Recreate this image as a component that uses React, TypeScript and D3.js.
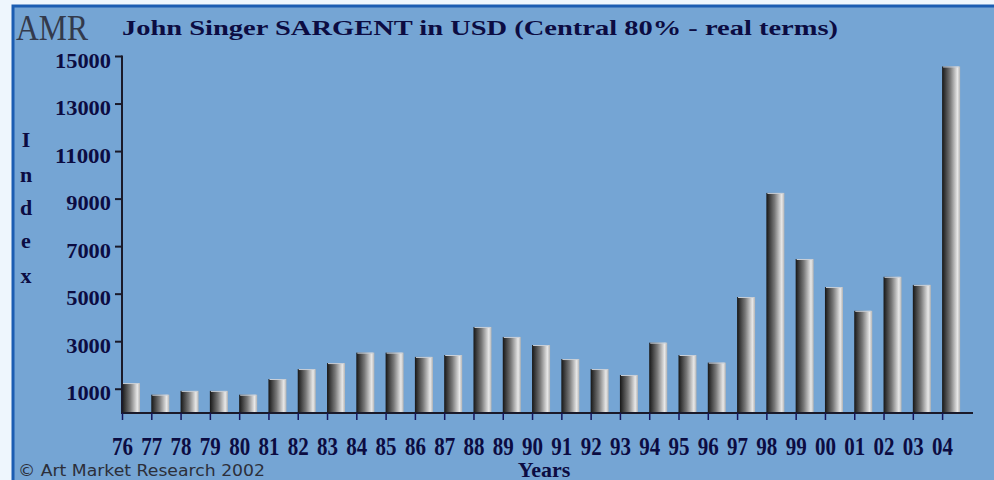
import { useEffect, useRef } from 'react'
import * as d3 from 'd3'

const years = ['76', '77', '78', '79', '80', '81', '82', '83', '84', '85', '86', '87', '88', '89', '90', '91', '92', '93', '94', '95', '96', '97', '98', '99', '00', '01', '02', '03', '04']
const index = [1260, 770, 930, 930, 770, 1430, 1850, 2100, 2540, 2540, 2360, 2440, 3620, 3200, 2860, 2270, 1850, 1600, 2960, 2440, 2120, 4880, 9260, 6480, 5300, 4300, 5730, 5390, 14580]
const yTicks = [1000, 3000, 5000, 7000, 9000, 11000, 13000, 15000]
const yLetters = ['I', 'n', 'd', 'e', 'x']

export default function App() {
  const ref = useRef<SVGSVGElement>(null)

  useEffect(() => {
    const svg = d3.select(ref.current)
    svg.selectAll('*').remove()

    const navy = '#0c0c42'
    const serif = '"Liberation Serif", "Times New Roman", serif'

    // frame
    svg.append('rect').attr('width', 994).attr('height', 480).attr('fill', '#eef6fd')
    svg
      .append('rect')
      .attr('x', 13)
      .attr('y', 6)
      .attr('width', 1000)
      .attr('height', 500)
      .attr('fill', '#75a5d4')
      .attr('stroke', '#1b5db2')
      .attr('stroke-width', 3)

    const defs = svg.append('defs')
    const grad = defs.append('linearGradient').attr('id', 'barGrad').attr('x1', '0').attr('x2', '1').attr('y1', '0').attr('y2', '0')
    grad.append('stop').attr('offset', '0%').attr('stop-color', '#161616')
    grad.append('stop').attr('offset', '45%').attr('stop-color', '#787878')
    grad.append('stop').attr('offset', '85%').attr('stop-color', '#e8e8e8')
    grad.append('stop').attr('offset', '100%').attr('stop-color', '#b4b4b4')

    const x = d3.scaleBand().domain(years).range([122, 971.4]).padding(0)
    const y = d3.scaleLinear().domain([0, 15000]).range([413, 56.5])
    const bw = x.bandwidth() * 0.615

    // bars
    svg
      .selectAll('rect.bar')
      .data(index)
      .enter()
      .append('rect')
      .attr('class', 'bar')
      .attr('x', (d, i) => x(years[i]) as number)
      .attr('y', (d) => y(d))
      .attr('width', bw)
      .attr('height', (d) => y(0) - y(d))
      .attr('fill', 'url(#barGrad)')
    svg
      .selectAll('line.cap')
      .data(index)
      .enter()
      .append('line')
      .attr('x1', (d, i) => (x(years[i]) as number) + 1)
      .attr('x2', (d, i) => (x(years[i]) as number) + bw - 1)
      .attr('y1', (d) => y(d) + 0.5)
      .attr('y2', (d) => y(d) + 0.5)
      .attr('stroke', '#c8cfd8')
      .attr('stroke-width', 1)

    // axes
    svg.append('line').attr('x1', 122).attr('x2', 122).attr('y1', y(15000) - 1).attr('y2', 414).attr('stroke', '#1a1a2a').attr('stroke-width', 2)
    svg.append('line').attr('x1', 121).attr('x2', 973).attr('y1', 413).attr('y2', 413).attr('stroke', '#1a1a2a').attr('stroke-width', 2)

    svg
      .selectAll('line.ytick')
      .data(yTicks)
      .enter()
      .append('line')
      .attr('x1', 115)
      .attr('x2', 122)
      .attr('y1', (d) => y(d))
      .attr('y2', (d) => y(d))
      .attr('stroke', '#1a1a2a')
      .attr('stroke-width', 2)

    svg
      .selectAll('text.ylab')
      .data(yTicks)
      .enter()
      .append('text')
      .attr('x', 111)
      .attr('y', (d) => y(d) + 11)
      .attr('text-anchor', 'end')
      .attr('font-family', serif)
      .attr('font-weight', 700)
      .attr('font-size', 22)
      .attr('fill', navy)
      .attr('textLength', (d) => String(d).length * 11.2)
      .attr('lengthAdjust', 'spacingAndGlyphs')
      .text((d) => d)

    svg
      .selectAll('line.xtick')
      .data(years)
      .enter()
      .append('line')
      .attr('x1', (d) => (x(d) as number) + 0.5)
      .attr('x2', (d) => (x(d) as number) + 0.5)
      .attr('y1', 413)
      .attr('y2', 420)
      .attr('stroke', '#14145a')
      .attr('stroke-width', 1.5)

    svg
      .selectAll('text.xlab')
      .data(years)
      .enter()
      .append('text')
      .attr('x', (d) => (x(d) as number) - 10)
      .attr('y', 455)
      .attr('font-family', serif)
      .attr('font-weight', 700)
      .attr('font-size', 25)
      .attr('fill', navy)
      .attr('textLength', 21)
      .attr('lengthAdjust', 'spacingAndGlyphs')
      .text((d) => d)

    // titles
    svg
      .append('text')
      .attr('x', 122)
      .attr('y', 35)
      .attr('font-family', serif)
      .attr('font-weight', 700)
      .attr('font-size', 22)
      .attr('fill', navy)
      .attr('textLength', 716)
      .attr('lengthAdjust', 'spacingAndGlyphs')
      .text('John Singer SARGENT in USD (Central 80% - real terms)')

    svg
      .append('text')
      .attr('x', 16)
      .attr('y', 40)
      .attr('font-family', serif)
      .attr('font-size', 36)
      .attr('fill', '#333a4c')
      .attr('textLength', 72)
      .attr('lengthAdjust', 'spacingAndGlyphs')
      .text('AMR')

    const letterY = [147, 182, 215, 248, 283]
    svg
      .selectAll('text.ylet')
      .data(yLetters)
      .enter()
      .append('text')
      .attr('x', 26)
      .attr('y', (d, i) => letterY[i])
      .attr('text-anchor', 'middle')
      .attr('font-family', serif)
      .attr('font-weight', 700)
      .attr('font-size', 22)
      .attr('fill', navy)
      .text((d) => d)

    svg
      .append('text')
      .attr('x', 544)
      .attr('y', 477)
      .attr('text-anchor', 'middle')
      .attr('font-family', serif)
      .attr('font-weight', 700)
      .attr('font-size', 22)
      .attr('fill', navy)
      .text('Years')

    svg
      .append('text')
      .attr('x', 18)
      .attr('y', 476)
      .attr('font-family', '"DejaVu Sans", Verdana, sans-serif')
      .attr('font-size', 15)
      .attr('fill', '#2c2f3a')
      .attr('textLength', 247)
      .attr('lengthAdjust', 'spacingAndGlyphs')
      .text('© Art Market Research 2002')
  }, [])

  return (
    <svg
      ref={ref}
      width={994}
      height={480}
      style={{ position: 'absolute', left: 0, top: 0, display: 'block' }}
    />
  )
}
